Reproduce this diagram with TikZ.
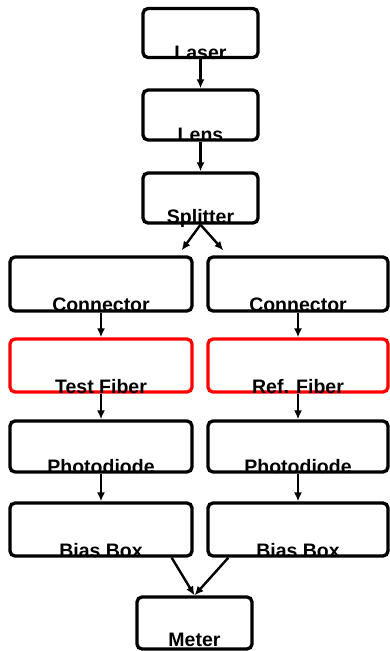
\documentclass[tikz,border=0pt]{standalone}
\usepackage{fontspec}
\setmainfont{Liberation Sans}
\usetikzlibrary{arrows.meta}
\begin{document}
\begin{tikzpicture}[x=1pt,y=-1pt,
  box/.style={draw=black, line width=3.3pt, rounded corners=5pt, inner sep=0pt, fill=none},
  redbox/.style={box, draw=red},
  lbl/.style={anchor=base, font=\fontsize{19.5}{19.5}\selectfont\bfseries, inner sep=0pt},
  arr/.style={line width=2.4pt, -{Latex[length=9pt,width=8pt]}}]
\useasboundingbox (0,0) rectangle (389,651);
% top column
\node[box, minimum width=115pt, minimum height=49pt] (laser) at (200.5,33) {};
\node[box, minimum width=115pt, minimum height=50pt] (lens) at (200.5,115) {};
\node[box, minimum width=115pt, minimum height=50pt] (split) at (200.5,198) {};
% left column
\node[box, minimum width=182pt, minimum height=54pt] (conL) at (101,284) {};
\node[redbox, minimum width=182pt, minimum height=53pt] (fibL) at (101,365.5) {};
\node[box, minimum width=182pt, minimum height=51pt] (pdL) at (101,446.5) {};
\node[box, minimum width=182pt, minimum height=53pt] (biasL) at (101,529.5) {};
% right column
\node[box, minimum width=180pt, minimum height=54pt] (conR) at (298,284) {};
\node[redbox, minimum width=180pt, minimum height=53pt] (fibR) at (298,365.5) {};
\node[box, minimum width=180pt, minimum height=51pt] (pdR) at (298,446.5) {};
\node[box, minimum width=180pt, minimum height=53pt] (biasR) at (298,529.5) {};
% meter
\node[box, minimum width=115pt, minimum height=52pt] (meter) at (194.5,623) {};
% connectors
\coordinate (sL) at ([xshift=-12pt,yshift=5pt]conL.north east);
\coordinate (sR) at ([xshift=17pt,yshift=5pt]conR.north west);
\draw[arr] (laser) -- (lens);
\draw[arr] (lens) -- (split);
\draw[arr] (split.south) -- (sL);
\draw[arr] (split.south) -- (sR);
\draw[arr] (conL) -- (fibL);
\draw[arr] (conR) -- (fibR);
\draw[arr] (fibL) -- (pdL);
\draw[arr] (fibR) -- (pdR);
\draw[arr] (pdL) -- (biasL);
\draw[arr] (pdR) -- (biasR);
\draw[arr] ([xshift=-22pt]biasL.south east) -- (meter.north);
\draw[arr] ([xshift=22pt]biasR.south west) -- (meter.north);
% labels
\node[lbl] (tLaser) at (laser.south) {Laser};
\node[lbl] (tLens) at (lens.south) {Lens};
\node[lbl] (tSplit) at ([yshift=1pt]split.south) {Splitter};
\node[lbl] (tConL) at ([yshift=1pt]conL.south) {Connector};
\node[lbl] (tConR) at ([yshift=1pt]conR.south) {Connector};
\node[lbl] (tFibL) at (fibL.south) {Test Fiber};
\node[lbl] (tFibR) at (fibR.south) {Ref. Fiber};
\node[lbl] (tPdL) at (pdL.south) {Photodiode};
\node[lbl] (tPdR) at (pdR.south) {Photodiode};
\node[lbl] (tBiasL) at (biasL.south) {Bias Box};
\node[lbl] (tBiasR) at (biasR.south) {Bias Box};
\node[lbl] (tMeter) at ([yshift=4pt]meter.south) {Meter};
\end{tikzpicture}
\end{document}
